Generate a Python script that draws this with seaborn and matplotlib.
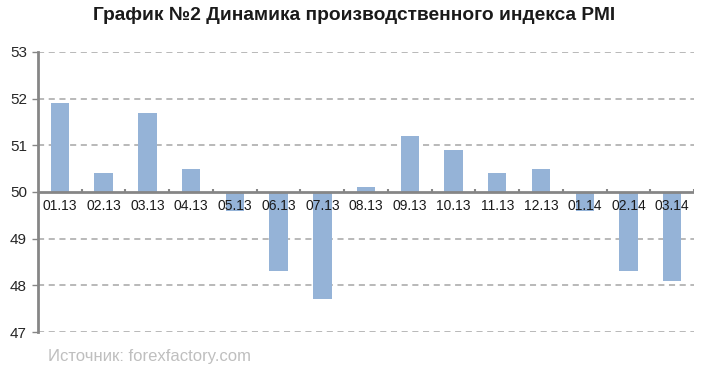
import matplotlib
matplotlib.use("Agg")
import matplotlib.pyplot as plt
import seaborn as sns
import pandas as pd

months = ["01.13", "02.13", "03.13", "04.13", "05.13", "06.13", "07.13", "08.13",
          "09.13", "10.13", "11.13", "12.13", "01.14", "02.14", "03.14"]
pmi = [51.9, 50.4, 51.7, 50.5, 49.6, 48.3, 47.7, 50.1,
       51.2, 50.9, 50.4, 50.5, 49.6, 48.3, 48.1]
baseline = 50
yticks = [47, 48, 49, 50, 51, 52, 53]

sns.set_theme(style="white")
plt.rcParams['font.family'] = ['Liberation Sans', 'DejaVu Sans']

df = pd.DataFrame({"month": months, "delta": [v - baseline for v in pmi]})

fig = plt.figure(figsize=(7.09, 3.71), dpi=100)
ax = fig.add_axes([0.0536, 0.105, 0.9254, 0.755])

sns.barplot(data=df, x="month", y="delta", color="#95B3D7", saturation=1,
            width=0.42, bottom=baseline, ax=ax, zorder=3, linewidth=0)

ax.set_ylim(47, 53)
ax.set_xlim(-0.5, len(months) - 0.5)
ax.set_yticks(yticks)
ax.set_yticklabels([str(t) for t in yticks], fontsize=11, color="#262626")
for t in yticks:
    if t != baseline:
        ax.axhline(t, color="#A6A6A6", lw=1.1, ls=(0, (4, 3)), zorder=1)

# x axis line at baseline
ax.axhline(baseline, color="#868686", lw=2, zorder=4)
for i in range(len(months) + 1):
    ax.plot([i - 0.5, i - 0.5], [baseline, baseline + 0.07], color="#868686", lw=1.5, zorder=4,
            solid_capstyle="butt")

ax.set_xticks([])
for i, m in enumerate(months):
    ax.text(i, baseline - 0.3, m, ha="center", va="center", fontsize=10, color="#1a1a1a", zorder=5)

for s in ["top", "right", "bottom"]:
    ax.spines[s].set_visible(False)
ax.spines["left"].set_color("#868686")
ax.spines["left"].set_linewidth(2)
ax.tick_params(axis="y", which="both", left=True, length=4, width=1, color="#868686", pad=4)
ax.set_xlabel("")
ax.set_ylabel("")

fig.text(0.5, 0.958, "График №2 Динамика производственного индекса PMI",
         ha="center", va="center", fontsize=13.8, fontweight="bold", color="#1a1a1a")
fig.text(0.068, 0.038, "Источник: forexfactory.com", ha="left", va="center",
         fontsize=12, color="#BFBFBF")

fig.savefig("out.png", dpi=100)
